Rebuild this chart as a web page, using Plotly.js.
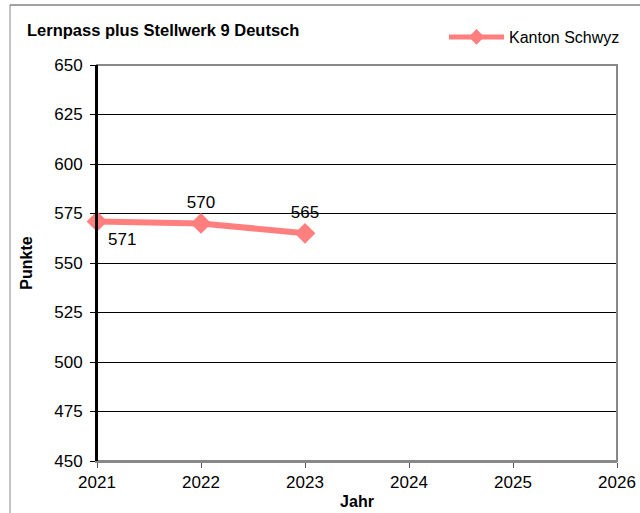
<!DOCTYPE html>
<html>
<head>
<meta charset="utf-8">
<script src="https://cdn.plot.ly/plotly-3.0.1.min.js"></script>
<style>html,body{margin:0;padding:0;background:#fff;}#chart{width:640px;height:513px;}</style>
</head>
<body>
<div id="chart"></div>
<script>
const years = [2021, 2022, 2023];
const values = [571, 570, 565];
const labels = ['571', '570', '565'];
const labelPositions = ['bottom right', 'top center', 'top center'];
const seriesName = 'Kanton Schwyz';
const yTicks = [450, 475, 500, 525, 550, 575, 600, 625, 650];
const xTicks = [2021, 2022, 2023, 2024, 2025, 2026];

const trace = {
  x: years, y: values, type: 'scatter', mode: 'lines+markers+text',
  name: seriesName,
  line: {color: '#ff7f7f', width: 6},
  marker: {symbol: 'diamond', size: 16, color: '#ff7f7f'},
  text: labels, textposition: labelPositions,
  textfont: {family: 'Liberation Sans, Arial, sans-serif', size: 17, color: '#000'},
  cliponaxis: false
};

const layout = {
  width: 640, height: 513,
  margin: {l: 97, r: 23, t: 65, b: 52, autoexpand: false},
  paper_bgcolor: '#fff', plot_bgcolor: '#fff',
  font: {family: 'Liberation Sans, Arial, sans-serif', size: 15, color: '#000'},
  title: {text: 'Lernpass plus Stellwerk 9 Deutsch', font: {size: 16.5, weight: 'bold', color: '#000'},
    xref: 'container', yref: 'container', x: 27/640, xanchor: 'left', y: 1 - 30/513, yanchor: 'middle'},
  showlegend: true,
  legend: {xref: 'container', yref: 'container', x: 444/640, xanchor: 'left', y: 1 - 37/513, yanchor: 'middle',
    font: {size: 16}, itemwidth: 55, itemsizing: 'constant', bgcolor: 'rgba(0,0,0,0)'},
  xaxis: {
    range: [2021, 2026], tickvals: xTicks, ticktext: xTicks.map(String),
    showgrid: false, zeroline: false,
    showline: true, linecolor: '#888', linewidth: 2,
    ticks: 'outside', ticklen: 5, tickcolor: '#555', tickwidth: 1,
    tickfont: {size: 17},
    title: {text: 'Jahr', font: {size: 16, weight: 'bold'}, standoff: 4}
  },
  yaxis: {
    range: [450, 650], tickvals: yTicks, ticktext: yTicks.map(String),
    showgrid: true, gridcolor: '#000', gridwidth: 1, zeroline: false,
    showline: true, linecolor: '#000', linewidth: 2,
    ticks: 'outside', ticklen: 5, tickcolor: '#000', tickwidth: 1,
    tickfont: {size: 17}, ticklabelstandoff: 4,
    title: {text: 'Punkte', font: {size: 16, weight: 'bold'}, standoff: 18}
  },
  shapes: [
    {type: 'rect', xref: 'paper', yref: 'paper', x0: 0, x1: 1, y0: 0, y1: 1, line: {color: '#888', width: 2}, layer: 'above'},
    {type: 'line', xref: 'paper', yref: 'paper', x0: 0, x1: 0, y0: 0, y1: 1, line: {color: '#000', width: 2}, layer: 'above'},
    {type: 'line', xref: 'paper', yref: 'paper', x0: (10-97)/520, x1: (10-97)/520, y0: (461-5)/396, y1: -0.2, line: {color: '#888', width: 1}},
    {type: 'line', xref: 'paper', yref: 'paper', x0: (10-97)/520, x1: 1.2, y0: (461-5)/396, y1: (461-5)/396, line: {color: '#444', width: 1}}
  ]
};

Plotly.newPlot('chart', [trace], layout, {displayModeBar: false, staticPlot: true});
</script>
</body>
</html>
